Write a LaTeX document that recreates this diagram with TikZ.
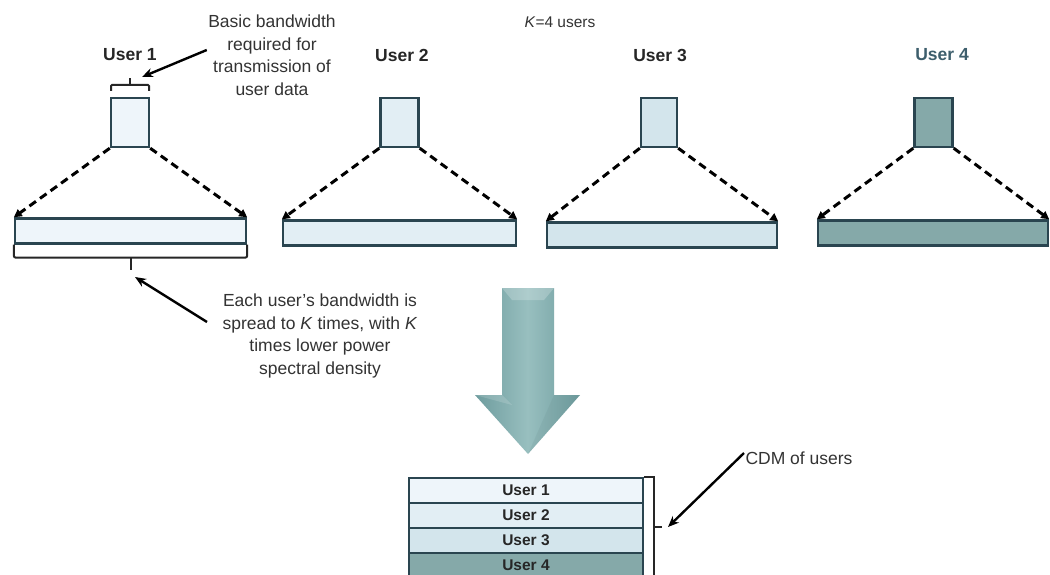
\documentclass[tikz,border=0pt]{standalone}
\usepackage{fontspec}
\setmainfont{Liberation Sans}
\usetikzlibrary{arrows.meta}
\definecolor{edge}{HTML}{2A4550}
\definecolor{uA}{HTML}{EEF5FA}
\definecolor{uB}{HTML}{E2EEF4}
\definecolor{uC}{HTML}{D3E5EC}
\definecolor{uD}{HTML}{85A9A9}
\definecolor{note}{HTML}{333333}
\definecolor{labD}{HTML}{3D5E6C}
\definecolor{tealA}{HTML}{6E9C9E}
\definecolor{tealB}{HTML}{98BFBF}
\tikzset{
  ubox/.style={draw=edge, line width=2.4pt, minimum width=38pt, minimum height=49pt, inner sep=0pt},
  ubar/.style={draw=edge, line width=2.4pt, minimum height=25pt, inner sep=0pt},
  row/.style={draw=edge, line width=2pt, minimum width=234pt, minimum height=25pt, inner sep=0pt,
    font=\fontsize{15.5}{18}\selectfont\bfseries, text=black!85},
  ulabel/.style={font=\fontsize{17.5}{20}\selectfont\bfseries, text=black!85},
  notetext/.style={font=\fontsize{17.5}{22.5}\selectfont, text=note, align=center},
  spread/.style={line width=3pt, dash pattern=on 8pt off 5pt, -{Triangle[length=8pt,width=8pt]}},
  callout/.style={line width=2.4pt, -{Stealth[length=11pt,width=9pt]}},
  brace/.style={line width=2pt, black!85}
}
\begin{document}
\begin{tikzpicture}[x=1pt, y=-1pt]
\clip (0,0) rectangle (1050,575);
\fill[white] (0,0) rectangle (1050,575);

% headline
\node[font=\fontsize{15.5}{18}\selectfont, text=note] (kusers) at (560,22) {\textit{K}=4 users};

% user labels
\node[ulabel] (l1) at (130,55) {User 1};
\node[ulabel] (l2) at (402,55) {User 2};
\node[ulabel] (l3) at (660,55) {User 3};
\node[ulabel, text=labD] (l4) at (942,55) {User 4};

% narrow user bands
\node[ubox, fill=uA] (b1) at (130,122.5) {};
\node[ubox, fill=uB] (b2) at (399.5,122.5) {};
\node[ubox, fill=uC, minimum width=36pt] (b3) at (659,122.5) {};
\node[ubox, fill=uD] (b4) at (933.5,122.5) {};

% spread bands
\node[ubar, fill=uA, minimum width=231pt] (w1) at (130.5,231) {};
\node[ubar, fill=uB, minimum width=233pt] (w2) at (399.5,233) {};
\node[ubar, fill=uC, minimum width=230pt] (w3) at (662,235) {};
\node[ubar, fill=uD, minimum width=230pt] (w4) at (933,233) {};

% spreading arrows
\foreach \i in {1,2,3,4}{
  \draw[spread] (b\i.south west) -- (w\i.north west);
  \draw[spread] (b\i.south east) -- (w\i.north east);
}

% bracket over the basic band of user 1
\draw[brace, rounded corners=1pt] (111,91) -- (111,85) -- (149,85) -- (149,91);
\draw[brace] (130,85) -- (130,78);
\coordinate (t1) at (142,77);

% bracket under the spread band of user 1
\draw[brace, rounded corners=2pt] (w1.south west) -- ([yshift=-13pt]w1.south west) -- ([yshift=-13pt]w1.south east) -- (w1.south east);
\draw[brace] ([yshift=-13pt]w1.south) -- ([yshift=-25pt]w1.south);
\coordinate (t2) at (135,277);

% annotations
\node[notetext] (basic) at (272,55) {Basic bandwidth\\required for\\transmission of\\user data};
\node[notetext] (each) at (320,336) {Each user's bandwidth is\\spread to \textit{K} times, with \textit{K}\\times lower power\\spectral density};
\draw[callout] ([shift={(2pt,5pt)}]basic.west) -- (t1);
\draw[callout] (207,322) -- (t2);

% big downward arrow
\shade[left color=tealA, right color=tealA, middle color=tealB]
  (502,288) -- (554,288) -- (554,395) -- (580,395) -- (528,454) -- (475,395) -- (502,395) -- cycle;
\fill[white, opacity=0.22] (502,288) -- (554,288) -- (544,300) -- (512,300) -- cycle;
\fill[white, opacity=0.15] (475,395) -- (502,395) -- (512,405) -- cycle;
\fill[tealA!80!black, opacity=0.12] (554,395) -- (580,395) -- (528,454) -- cycle;

% code-division multiplexed stack
\node[row, fill=uA] (r1) at (526,490.5) {User 1};
\node[row, fill=uB] (r2) at (526,515.5) {User 2};
\node[row, fill=uC] (r3) at (526,540) {User 3};
\node[row, fill=uD] (r4) at (526,565) {User 4};

% bracket beside the stack
\draw[brace] (r1.north east) -- ([xshift=10pt]r1.north east) -- ([xshift=10pt,yshift=-2pt]r4.south east);
\draw[brace] (653,527) -- (662,527);
\coordinate (t3) at (668,527);
\node[notetext] (cdm) at (799,458) {CDM of users};
\draw[callout] ([shift={(2pt,5pt)}]cdm.west) -- (t3);
\end{tikzpicture}
\end{document}
